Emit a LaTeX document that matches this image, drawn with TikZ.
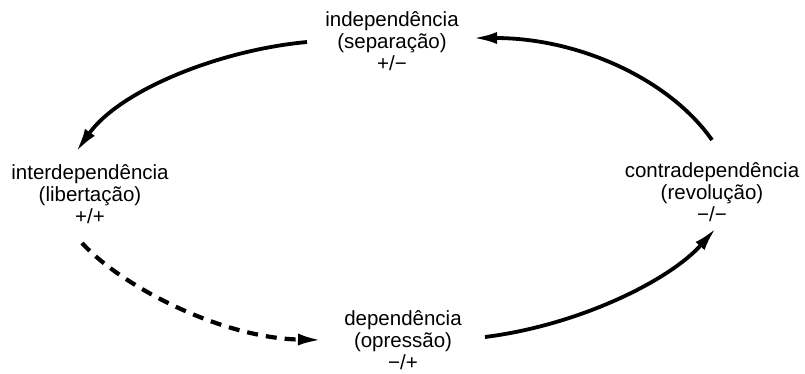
\documentclass[tikz,border=0pt]{standalone}
\usepackage{fontspec}
\setmainfont{Liberation Sans}
\usetikzlibrary{arrows.meta}
\tikzset{
  lbl/.style={align=center, inner sep=0pt, font=\fontsize{20.5}{22}\selectfont},
  conn/.style={line width=3.8pt, -{Latex[length=24pt,width=12pt]}},
  dconn/.style={conn, line width=4.2pt, dash pattern=on 11pt off 8pt}
}
\begin{document}
\begin{tikzpicture}[x=1pt,y=-1pt]
\useasboundingbox (0,0) rectangle (805,373);
\node[lbl] (ind) at (392,41) {independência\\(separação)\\+/−};
\node[lbl] (inter) at (90,194) {interdependência\\(libertação)\\+/+};
\node[lbl] (contra) at (712,192) {contradependência\\(revolução)\\−/−};
\node[lbl] (dep) at (403,340) {dependência\\(opressão)\\−/+};
\coordinate (a0) at (307,42);
\coordinate (a1) at (76,152);
\coordinate (b0) at (712,140);
\coordinate (b1) at (473,38);
\coordinate (c0) at (82,243);
\coordinate (c1) at (322,340);
\coordinate (d0) at (485,337);
\coordinate (d1) at (716,228);
\draw[conn] (a0) .. controls (220,50) and (120,90) .. (a1);
\draw[conn] (b0) .. controls (670,80) and (580,38) .. (b1);
\draw[dconn] (c0) .. controls (120,285) and (220,338) .. (c1);
\draw[conn] (d0) .. controls (580,325) and (670,280) .. (d1);
\end{tikzpicture}
\end{document}
